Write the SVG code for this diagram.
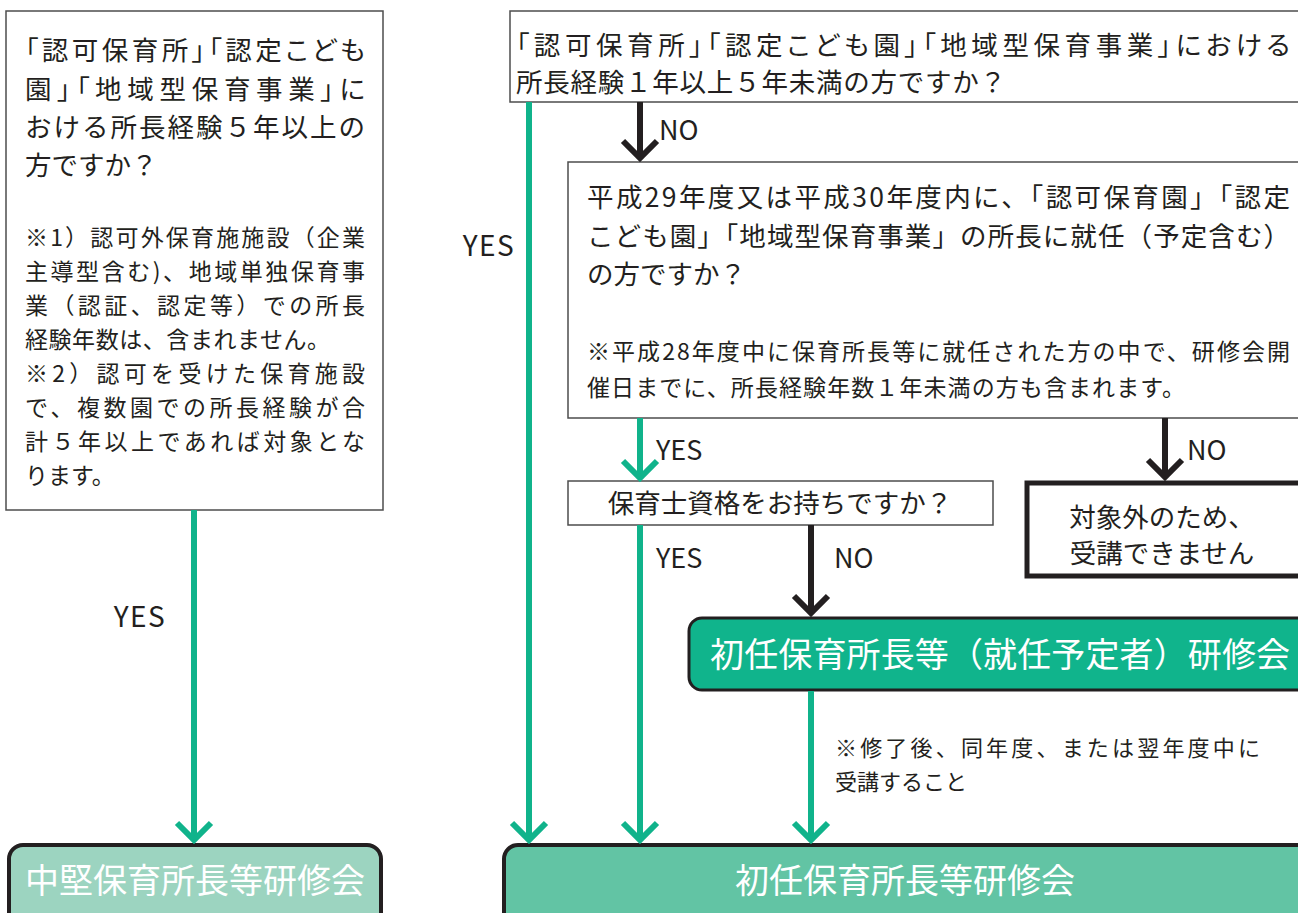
<svg xmlns="http://www.w3.org/2000/svg" width="1298" height="913" viewBox="0 0 1298 913">
<style>
text{font-family:"Noto Sans CJK JP","Noto Sans",sans-serif;fill:#231f20}
.q{font-size:26.5px}
.n{font-size:23px}
.m{font-size:22px}
.p{font-feature-settings:"palt"}
.lb{font-size:27px}
.lw{font-size:28px;letter-spacing:1.5px}
.w{fill:#ffffff;font-size:34px}
.box{fill:#ffffff;stroke:#4d4d4d;stroke-width:1.5}
.g{stroke:#10b38b;stroke-width:6;fill:none}
.k{stroke:#231f20;stroke-width:6;fill:none}
</style>
<rect width="1298" height="913" fill="#ffffff"/>
<g id="q1">
<rect class="box" x="6" y="11" width="377" height="499"/>
<text class="q p" x="25" y="60" textLength="340" lengthAdjust="spacing">「認可保育所」「認定こども</text>
<text class="q p" x="25" y="99" textLength="340" lengthAdjust="spacing">園」「地域型保育事業」に</text>
<text class="q" x="25" y="137" textLength="340" lengthAdjust="spacing">おける所長経験５年以上の</text>
<text class="q" x="25" y="175">方ですか？</text>
<text class="n" x="25" y="246" textLength="340" lengthAdjust="spacing">※1）認可外保育施施設（企業</text>
<text class="n" x="25" y="280" textLength="340" lengthAdjust="spacing">主導型含む)、地域単独保育事</text>
<text class="n" x="25" y="314" textLength="340" lengthAdjust="spacing">業（認証、認定等）での所長</text>
<text class="n" x="25" y="348" textLength="305" lengthAdjust="spacing">経験年数は、含まれません。</text>
<text class="n" x="25" y="382" textLength="340" lengthAdjust="spacing">※2）認可を受けた保育施設</text>
<text class="n" x="25" y="416" textLength="340" lengthAdjust="spacing">で、複数園での所長経験が合</text>
<text class="n" x="25" y="450" textLength="340" lengthAdjust="spacing">計５年以上であれば対象とな</text>
<text class="n" x="25" y="484">ります。</text>
</g>
<g id="q2">
<rect class="box" x="510" y="11" width="800" height="91"/>
<text class="q p" x="516" y="55" textLength="774" lengthAdjust="spacing">「認可保育所」「認定こども園」「地域型保育事業」における</text>
<text class="q" x="516" y="92" textLength="490" lengthAdjust="spacing">所長経験１年以上５年未満の方ですか？</text>
</g>
<g id="q3">
<rect class="box" x="568" y="162" width="742" height="256"/>
<text class="q" x="587" y="207" textLength="703" lengthAdjust="spacing">平成29年度又は平成30年度内に、「認可保育園」「認定</text>
<text class="q" x="587" y="246" textLength="703" lengthAdjust="spacing">こども園」「地域型保育事業」の所長に就任（予定含む）</text>
<text class="q" x="587" y="284">の方ですか？</text>
<text class="n" x="587" y="360" textLength="703" lengthAdjust="spacing">※平成28年度中に保育所長等に就任された方の中で、研修会開</text>
<text class="n" x="587" y="396" textLength="598" lengthAdjust="spacing">催日までに、所長経験年数１年未満の方も含まれます。</text>
</g>
<g id="q4">
<rect class="box" x="568" y="481" width="425" height="44"/>
<text class="q" x="780" y="513" text-anchor="middle">保育士資格をお持ちですか？</text>
</g>
<g id="out">
<rect x="1027" y="483" width="290" height="93" fill="#ffffff" stroke="#231f20" stroke-width="5"/>
<text class="q" x="1162" y="527" text-anchor="middle">対象外のため、</text>
<text class="q" x="1162" y="563" text-anchor="middle">受講できません</text>
</g>
<g id="prep">
<rect x="689" y="618" width="630" height="72" rx="13" fill="#10b48c" stroke="#231f20" stroke-width="3"/>
<text class="w" x="710" y="667" textLength="580" lengthAdjust="spacing">初任保育所長等（就任予定者）研修会</text>
</g>
<g id="mid">
<rect x="9" y="845" width="372" height="90" rx="14" fill="#9cd4c0" stroke="#231f20" stroke-width="4"/>
<text class="w" x="195" y="893" text-anchor="middle">中堅保育所長等研修会</text>
</g>
<g id="init">
<rect x="504" y="845" width="820" height="90" rx="14" fill="#62c4a4" stroke="#231f20" stroke-width="4"/>
<text class="w" x="905" y="893" text-anchor="middle">初任保育所長等研修会</text>
</g>
<g id="connectors">
<line class="g" x1="194" y1="510" x2="194" y2="840"/>
<polyline class="g" points="177,823 194,840 211,823"/>
<line class="g" x1="529" y1="102" x2="529" y2="840"/>
<polyline class="g" points="512,823 529,840 546,823"/>
<line class="g" x1="640" y1="418" x2="640" y2="478"/>
<polyline class="g" points="623,461 640,478 657,461"/>
<line class="g" x1="640" y1="525" x2="640" y2="840"/>
<polyline class="g" points="623,823 640,840 657,823"/>
<line class="g" x1="811" y1="691" x2="811" y2="840"/>
<polyline class="g" points="794,823 811,840 828,823"/>
<line class="k" x1="640" y1="102" x2="640" y2="158"/>
<polyline class="k" points="623,141 640,158 657,141"/>
<line class="k" x1="1165" y1="418" x2="1165" y2="477"/>
<polyline class="k" points="1148,460 1165,477 1182,460"/>
<line class="k" x1="811" y1="525" x2="811" y2="613"/>
<polyline class="k" points="794,596 811,613 828,596"/>
<text class="lw" x="140" y="627" text-anchor="middle">YES</text>
<text class="lw" x="489" y="256" text-anchor="middle">YES</text>
<text class="lb" x="659" y="140">NO</text>
<text class="lb" x="656" y="460">YES</text>
<text class="lb" x="1187" y="460">NO</text>
<text class="lb" x="656" y="568">YES</text>
<text class="lb" x="834" y="568">NO</text>
<text class="m" x="835" y="756" textLength="425" lengthAdjust="spacing">※修了後、同年度、または翌年度中に</text>
<text class="m" x="835" y="790">受講すること</text>
</g>
</svg>
